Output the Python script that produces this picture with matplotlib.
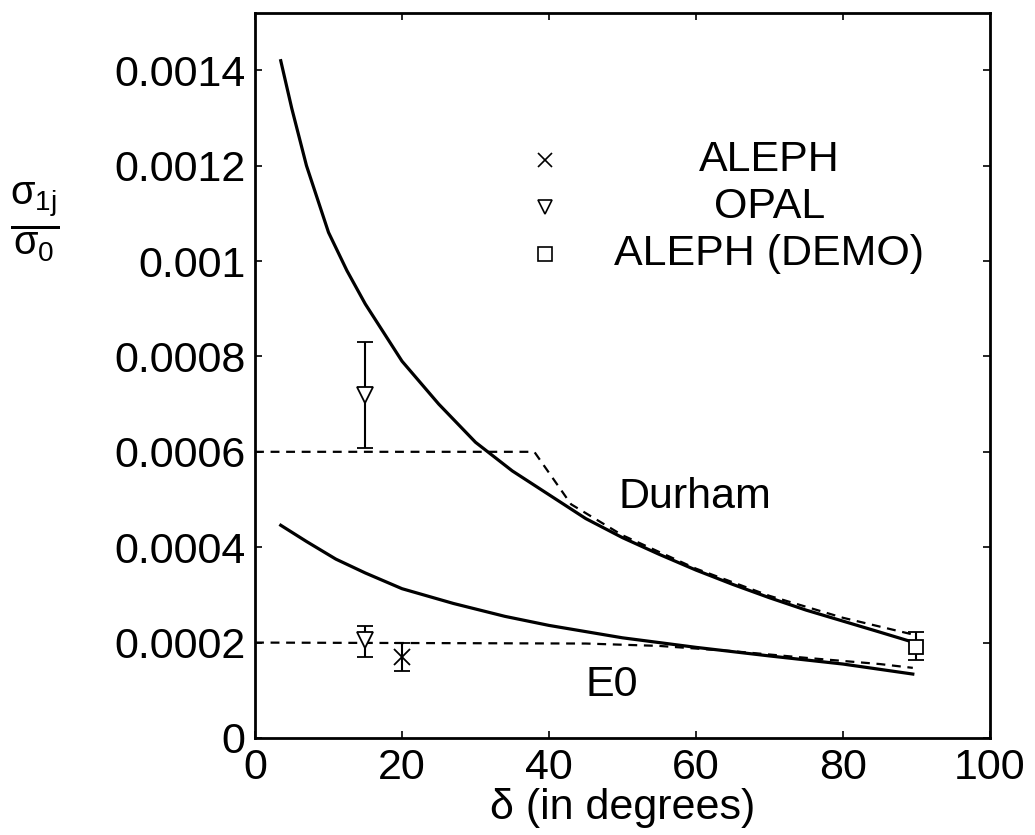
import matplotlib
matplotlib.use("Agg")
import matplotlib.pyplot as plt

plt.rcParams['font.family'] = ['Liberation Sans', 'DejaVu Sans']
plt.rcParams['mathtext.fontset'] = 'custom'
plt.rcParams['mathtext.rm'] = 'Liberation Sans'
plt.rcParams['mathtext.it'] = 'Liberation Sans'

# Durham: solid = theory, dashed = second curve
durham_x = [3.5, 5, 7, 10, 12.5, 15, 17.5, 20, 25, 30, 35, 40, 45, 50, 55,
            60, 65, 70, 75, 80, 85, 89.5]
durham_y = [0.00142, 0.00132, 0.00120, 0.00106, 0.00098, 0.00091, 0.00085,
            0.00079, 0.00070, 0.00062, 0.00056, 0.00051, 0.00046, 0.00042,
            0.000385, 0.000352, 0.000322, 0.000294, 0.000268, 0.000245,
            0.000222, 0.000201]
durham_dash_x = [0, 38, 43, 50, 60, 70, 80, 89.5]
durham_dash_y = [0.0006, 0.0006, 0.00049, 0.000425, 0.000355, 0.000298,
                 0.000252, 0.000217]

e0_x = [3.5, 7, 11, 15, 20, 27, 34, 40, 50, 60, 70, 80, 89.5]
e0_y = [0.000446, 0.000412, 0.000375, 0.000346, 0.000313, 0.000282,
        0.000255, 0.000236, 0.00021, 0.00019, 0.000172, 0.000155, 0.000134]
e0_dash_x = [0, 45, 55, 65, 75, 85, 89.5]
e0_dash_y = [0.0002, 0.000198, 0.000193, 0.000182, 0.000168, 0.000155,
             0.000147]

# data points with asymmetric errors
opal_x = [15, 15]
opal_y = [0.00072, 0.000205]
opal_lo = [0.000113, 0.000035]
opal_hi = [0.000111, 0.00003]

aleph_x = [20]
aleph_y = [0.00017]
aleph_lo = [0.00003]
aleph_hi = [0.00003]

demo_x = [90]
demo_y = [0.00019]
demo_lo = [0.000027]
demo_hi = [0.000032]

legend_labels = ['ALEPH', 'OPAL', 'ALEPH (DEMO)']
legend_markers = ['x', 'v', 's']

xticks = [0, 20, 40, 60, 80, 100]
yticks = [0, 0.0002, 0.0004, 0.0006, 0.0008, 0.001, 0.0012, 0.0014]
ytick_labels = ['0', '0.0002', '0.0004', '0.0006', '0.0008', '0.001',
                '0.0012', '0.0014']

FS = 31

fig = plt.figure(figsize=(10.35, 8.35), dpi=100)
ax = fig.add_axes([0.2464, 0.1162, 0.7101, 0.8682])

ax.plot(durham_x, durham_y, color='black', lw=2.3)
ax.plot(durham_dash_x, durham_dash_y, color='black', lw=1.6,
        linestyle=(0, (4, 3)))
ax.plot(e0_x, e0_y, color='black', lw=2.3)
ax.plot(e0_dash_x, e0_dash_y, color='black', lw=1.6, linestyle=(0, (4, 3)))

err_kw = dict(color='black', lw=1.5, capsize=6, capthick=1.5, ls='none',
              markerfacecolor='white', markeredgecolor='black', mew=1.3)
ax.errorbar(opal_x, opal_y, yerr=[opal_lo, opal_hi], marker='v', ms=11, **err_kw)
ax.errorbar(aleph_x, aleph_y, yerr=[aleph_lo, aleph_hi], marker='x', ms=11, **err_kw)
ax.errorbar(demo_x, demo_y, yerr=[demo_lo, demo_hi], marker='s', ms=10, **err_kw)

# legend drawn by hand: marker column + centred labels
for i, (lab, mk) in enumerate(zip(legend_labels, legend_markers)):
    yy = 0.797 - i * 0.0645
    ax.plot([0.3946], [yy], marker=mk, ms=10, color='black',
            markerfacecolor='white', mew=1.2, transform=ax.transAxes,
            clip_on=False)
    ax.text(0.70, yy, lab, transform=ax.transAxes, ha='center',
            va='center', fontsize=FS)

ax.text(49.5, 0.000505, 'Durham', fontsize=FS, ha='left', va='center')
ax.text(45.0, 0.000111, 'E0', fontsize=FS, ha='left', va='center')

ax.set_xlim(0, 100)
ax.set_ylim(0, 0.00152)
ax.set_xticks(xticks)
ax.set_yticks(yticks)
ax.set_yticklabels(ytick_labels)
ax.tick_params(direction='in', top=True, right=True, length=5, width=1.2,
               labelsize=FS, pad=7)
for s in ax.spines.values():
    s.set_linewidth(2)

ax.set_xlabel('δ (in degrees)', fontsize=FS, labelpad=0)
fig.text(0.034, 0.734, r'$\frac{\sigma_{1\mathrm{j}}}{\sigma_0}$', fontsize=41,
         ha='center', va='center')

fig.savefig('out.png', dpi=100)
